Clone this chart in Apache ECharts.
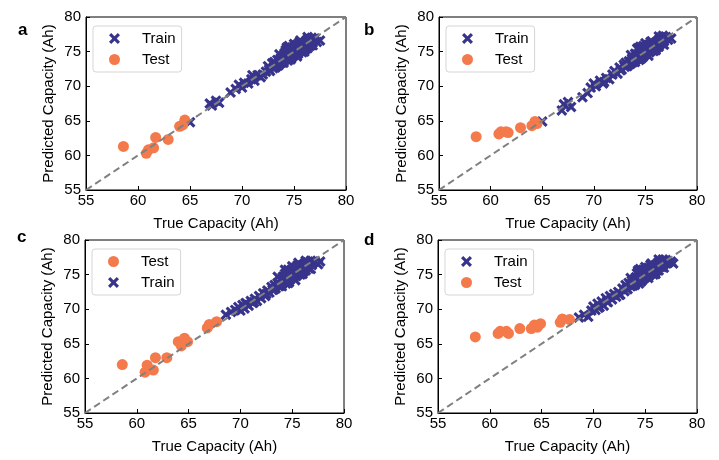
<!DOCTYPE html>
<html>
<head>
<meta charset="UTF-8">
<title>Capacity prediction</title>
<script src="https://cdn.jsdelivr.net/npm/echarts@6/dist/echarts.min.js"></script>
<style>
  html, body { margin: 0; padding: 0; background: #fff; }
  #chart { width: 719px; height: 460px; }
</style>
</head>
<body>
<div id="chart"></div>
<script>
// axis range and ticks
const axisRange = [55, 80];
const tickStep = 5;

// training set, panels a and b (true capacity)
const trainTrueAB = [
  65.0, 66.9, 67.1, 67.5, 67.8, 68.9, 69.4, 69.7, 70.0, 70.2,
  70.6, 70.9, 71.2, 71.5, 71.8, 72.0, 72.3, 72.5, 72.7, 72.9,
  73.0, 73.1, 73.3, 73.4, 73.6, 73.7, 73.9, 74.0, 74.1, 74.2,
  74.3, 74.4, 74.5, 74.5, 74.6, 74.7, 74.8, 74.8, 74.9, 75.0,
  75.0, 75.1, 75.2, 75.3, 75.3, 75.4, 75.5, 75.6, 75.6, 75.7,
  75.8, 75.9, 75.9, 76.0, 76.1, 76.2, 76.2, 76.3, 76.4, 76.5,
  76.5, 76.6, 76.7, 76.8, 76.9, 77.0, 77.2, 77.5, 74.2, 74.4,
  74.6, 74.9, 75.1, 75.4, 75.7, 76.0, 76.3, 76.6, 73.8, 74.1,
  74.7, 75.2, 75.5, 75.8, 76.1, 76.4, 72.6, 73.2, 73.5, 71.0,
  73.6, 74.0, 74.3, 74.6, 75.0, 75.3, 75.6, 76.0, 76.3, 76.8
];
const trainPredA = [
  64.8, 67.5, 67.2, 67.9, 67.6, 69.1, 69.6, 70.2, 69.8, 70.5,
  70.4, 71.0, 70.8, 71.6, 71.3, 71.7, 72.1, 72.9, 72.2, 73.3,
  72.6, 73.5, 72.9, 73.8, 73.2, 74.0, 73.5, 74.5, 73.8, 75.2,
  74.0, 75.4, 74.3, 75.8, 74.6, 75.1, 74.2, 75.6, 74.9, 75.3,
  74.5, 75.9, 74.8, 76.0, 75.2, 75.5, 75.0, 76.1, 75.3, 75.7,
  75.4, 76.2, 75.6, 75.9, 76.4, 75.7, 76.6, 76.0, 76.8, 76.2,
  75.8, 76.5, 77.0, 76.3, 76.7, 76.9, 76.4, 76.6, 74.1, 73.7,
  75.4, 74.4, 74.9, 74.7, 75.1, 75.2, 75.5, 75.9, 73.4, 74.8,
  73.9, 75.0, 76.3, 74.9, 75.4, 76.0, 72.4, 72.7, 73.0, 71.6,
  74.6, 73.4, 75.6, 73.9, 76.1, 74.3, 76.6, 75.0, 77.1, 75.9
];
const trainPredB = [
  64.9, 66.5, 67.4, 67.7, 67.0, 68.4, 69.0, 69.8, 70.4, 70.0,
  70.8, 70.4, 71.2, 71.0, 71.7, 72.2, 71.8, 72.7, 72.4, 73.1,
  72.8, 73.4, 73.0, 73.6, 73.3, 74.0, 73.6, 74.7, 73.9, 75.4,
  74.1, 75.1, 74.4, 75.7, 74.8, 75.2, 74.3, 75.8, 75.0, 75.5,
  74.6, 75.8, 75.0, 76.0, 75.3, 75.6, 75.1, 76.2, 75.4, 75.9,
  75.6, 76.0, 75.5, 76.3, 75.9, 76.5, 75.8, 76.7, 76.1, 77.0,
  76.3, 76.6, 77.3, 76.5, 76.9, 77.1, 76.7, 76.9, 74.0, 73.8,
  75.3, 74.6, 75.0, 74.9, 75.2, 75.5, 75.7, 76.2, 73.5, 74.6,
  74.2, 75.1, 76.4, 75.1, 75.6, 76.1, 72.3, 72.9, 73.2, 70.6,
  74.5, 73.5, 75.5, 74.0, 76.2, 74.4, 76.5, 75.2, 77.2, 76.0
];

// training set, panels c and d (true capacity)
const trainTrueCD = [
  68.6, 69.1, 69.5, 69.8, 70.0, 70.2, 70.4, 70.6, 70.8, 71.0,
  71.2, 71.4, 71.6, 71.8, 72.0, 72.2, 72.4, 72.6, 72.8, 73.0,
  73.1, 73.3, 73.4, 73.6, 73.7, 73.9, 74.0, 74.1, 74.2, 74.3,
  74.4, 74.5, 74.5, 74.6, 74.7, 74.8, 74.8, 74.9, 75.0, 75.0,
  75.1, 75.2, 75.3, 75.3, 75.4, 75.5, 75.6, 75.6, 75.7, 75.8,
  75.9, 75.9, 76.0, 76.1, 76.2, 76.2, 76.3, 76.4, 76.5, 76.5,
  76.6, 76.7, 76.8, 76.9, 77.0, 77.2, 77.5, 77.7, 74.2, 74.4,
  74.6, 74.9, 75.1, 75.4, 75.7, 76.0, 76.3, 76.6, 73.8, 74.1,
  74.7, 75.2, 75.5, 75.8, 76.1, 76.4, 72.5, 73.2, 71.3, 70.5,
  73.6, 74.0, 74.3, 74.6, 75.0, 75.3, 75.6, 76.0, 76.3, 76.8
];
const trainPredC = [
  69.2, 69.6, 69.9, 70.3, 69.8, 70.6, 70.1, 70.8, 70.5, 71.2,
  70.9, 71.5, 71.2, 71.9, 71.6, 72.3, 71.9, 72.7, 72.4, 73.2,
  72.8, 73.5, 73.0, 73.8, 73.3, 74.2, 73.6, 74.6, 74.0, 75.1,
  74.1, 75.3, 74.4, 75.7, 74.6, 75.2, 74.3, 75.6, 74.9, 75.4,
  74.6, 75.9, 74.9, 76.0, 75.3, 75.5, 75.1, 76.2, 75.4, 75.8,
  75.4, 76.3, 75.7, 76.0, 76.4, 75.8, 76.6, 76.1, 76.8, 76.3,
  75.9, 76.6, 77.0, 76.4, 76.8, 76.9, 76.5, 76.9, 74.0, 73.7,
  75.3, 74.5, 74.9, 74.8, 75.2, 75.3, 75.6, 75.9, 73.4, 74.7,
  73.9, 75.0, 76.3, 75.0, 75.5, 76.1, 72.2, 72.8, 71.0, 70.9,
  74.7, 73.3, 75.7, 73.8, 76.2, 74.2, 76.7, 75.1, 77.0, 75.8
];
const trainPredD = [
  68.8, 69.2, 68.9, 69.8, 70.4, 69.9, 70.8, 70.3, 71.1, 70.5,
  71.6, 71.0, 71.9, 71.4, 72.2, 71.8, 72.5, 72.1, 73.0, 72.6,
  73.5, 72.9, 73.8, 73.3, 74.1, 73.6, 74.4, 73.8, 75.2, 74.1,
  75.5, 74.3, 75.8, 74.7, 75.2, 74.4, 75.7, 75.0, 75.4, 74.6,
  75.9, 75.0, 76.0, 75.3, 75.6, 75.1, 76.2, 75.5, 75.8, 75.6,
  76.1, 75.7, 76.4, 76.0, 76.6, 76.0, 76.8, 76.2, 76.9, 76.4,
  76.6, 77.2, 76.5, 76.9, 77.1, 76.7, 76.9, 76.6, 74.0, 73.7,
  75.2, 74.5, 75.0, 74.9, 75.3, 75.5, 75.6, 76.1, 73.4, 74.6,
  74.2, 75.1, 76.4, 75.0, 75.6, 76.1, 72.1, 73.0, 71.1, 70.2,
  74.5, 73.5, 75.6, 74.0, 76.1, 74.5, 76.6, 75.1, 77.2, 76.0
];

// test sets
const testTrueAB = [58.6, 60.8, 61.0, 61.5, 61.7, 62.9, 64.0, 64.3, 64.5];
const testPredA = [61.3, 60.3, 60.8, 61.1, 62.6, 62.3, 64.2, 64.4, 65.1];
const testPredB = [62.7, 63.1, 63.4, 63.4, 63.3, 64.0, 64.3, 64.9, 64.6];
const testTrueCD = [58.6, 60.8, 61.0, 61.6, 61.8, 62.9, 64.0, 64.3, 64.6, 64.9, 66.8, 67.0, 67.7];
const testPredC = [62.0, 60.9, 61.9, 61.2, 63.0, 63.0, 65.3, 64.7, 65.8, 65.3, 67.3, 67.8, 68.2];
const testPredD = [66.0, 66.5, 66.8, 66.8, 66.5, 67.2, 67.2, 67.7, 67.4, 67.9, 68.1, 68.6, 68.5];

const panelLetters = ['a', 'b', 'c', 'd'];

const trainColor = '#38348c';
const testColor = '#f47a4b';
const crossPath = 'path://M0,2 L2,0 L5,3 L8,0 L10,2 L7,5 L10,8 L8,10 L5,7 L2,10 L0,8 L3,5 Z';

function pairs(xs, ys) {
  return xs.map((x, i) => [x, ys[i]]);
}

const panels = [
  { train: pairs(trainTrueAB, trainPredA), test: pairs(testTrueAB, testPredA), order: ['Train', 'Test'],
    grid: { left: 86, top: 17, width: 260, height: 173 }, letter: [18, 31] },
  { train: pairs(trainTrueAB, trainPredB), test: pairs(testTrueAB, testPredB), order: ['Train', 'Test'],
    grid: { left: 439, top: 17, width: 258, height: 173 }, letter: [364, 31] },
  { train: pairs(trainTrueCD, trainPredC), test: pairs(testTrueCD, testPredC), order: ['Test', 'Train'],
    grid: { left: 85, top: 240, width: 259, height: 173 }, letter: [17, 238] },
  { train: pairs(trainTrueCD, trainPredD), test: pairs(testTrueCD, testPredD), order: ['Train', 'Test'],
    grid: { left: 438, top: 240, width: 259, height: 173 }, letter: [364, 241] }
];

const grids = [], xAxes = [], yAxes = [], series = [], legends = [], texts = [];

panels.forEach(function (p, i) {
  grids.push(Object.assign({ show: true, borderColor: '#000', borderWidth: 1, backgroundColor: '#fff' }, p.grid));

  const axisBase = {
    gridIndex: i,
    min: axisRange[0],
    max: axisRange[1],
    interval: tickStep,
    nameLocation: 'middle',
    nameTextStyle: { fontSize: 15, color: '#000', fontFamily: 'Liberation Sans' },
    axisLine: { show: true, lineStyle: { color: '#000', width: 1 } },
    axisTick: { show: true, inside: true, length: 4, lineStyle: { color: '#000' } },
    axisLabel: { fontSize: 15, color: '#000', fontFamily: 'Liberation Sans' },
    splitLine: { show: false }
  };
  xAxes.push(Object.assign({}, axisBase, {
    type: 'value', name: 'True Capacity (Ah)', nameGap: 26,
    axisLabel: Object.assign({}, axisBase.axisLabel, { margin: 3 })
  }));
  yAxes.push(Object.assign({}, axisBase, {
    type: 'value', name: 'Predicted Capacity (Ah)', nameGap: 30,
    axisLabel: Object.assign({}, axisBase.axisLabel, { margin: 5 })
  }));

  series.push({
    name: 'Train', type: 'scatter', xAxisIndex: i, yAxisIndex: i,
    symbol: crossPath, symbolSize: 11,
    itemStyle: { color: trainColor, opacity: 1 },
    data: p.train, z: 2
  });
  series.push({
    name: 'Test', type: 'scatter', xAxisIndex: i, yAxisIndex: i,
    symbol: 'circle', symbolSize: 11,
    itemStyle: { color: testColor, opacity: 1 },
    data: p.test, z: 3
  });
  series.push({
    name: 'ideal', type: 'line', xAxisIndex: i, yAxisIndex: i,
    data: [[axisRange[0], axisRange[0]], [axisRange[1], axisRange[1]]],
    symbol: 'none', silent: true,
    lineStyle: { color: '#808080', width: 2, type: [7, 4] },
    z: 5
  });

  legends.push({
    data: p.order.map(n => ({ name: n, icon: n === 'Train' ? crossPath : 'circle' })),
    orient: 'vertical',
    left: p.grid.left + 7,
    top: p.grid.top + 9,
    itemWidth: 11,
    itemHeight: 11,
    itemGap: 6,
    padding: [5, 6, 5, 16],
    borderColor: '#d5d5d5',
    borderWidth: 1,
    borderRadius: 3,
    backgroundColor: 'rgba(255,255,255,0.85)',
    selectedMode: false,
    textStyle: { fontSize: 15, color: '#000', fontFamily: 'Liberation Sans', padding: [0, 0, 0, 17] }
  });

  texts.push({
    type: 'text', left: p.letter[0], top: p.letter[1] - 9,
    style: { text: panelLetters[i], fontSize: 17, fontWeight: 'bold', fill: '#000', fontFamily: 'Liberation Sans' }
  });
});

const chart = echarts.init(document.getElementById('chart'));
chart.setOption({
  animation: false,
  backgroundColor: '#fff',
  grid: grids,
  xAxis: xAxes,
  yAxis: yAxes,
  legend: legends,
  series: series,
  graphic: texts
});
window.addEventListener('resize', function () { chart.resize(); });
</script>
</body>
</html>
